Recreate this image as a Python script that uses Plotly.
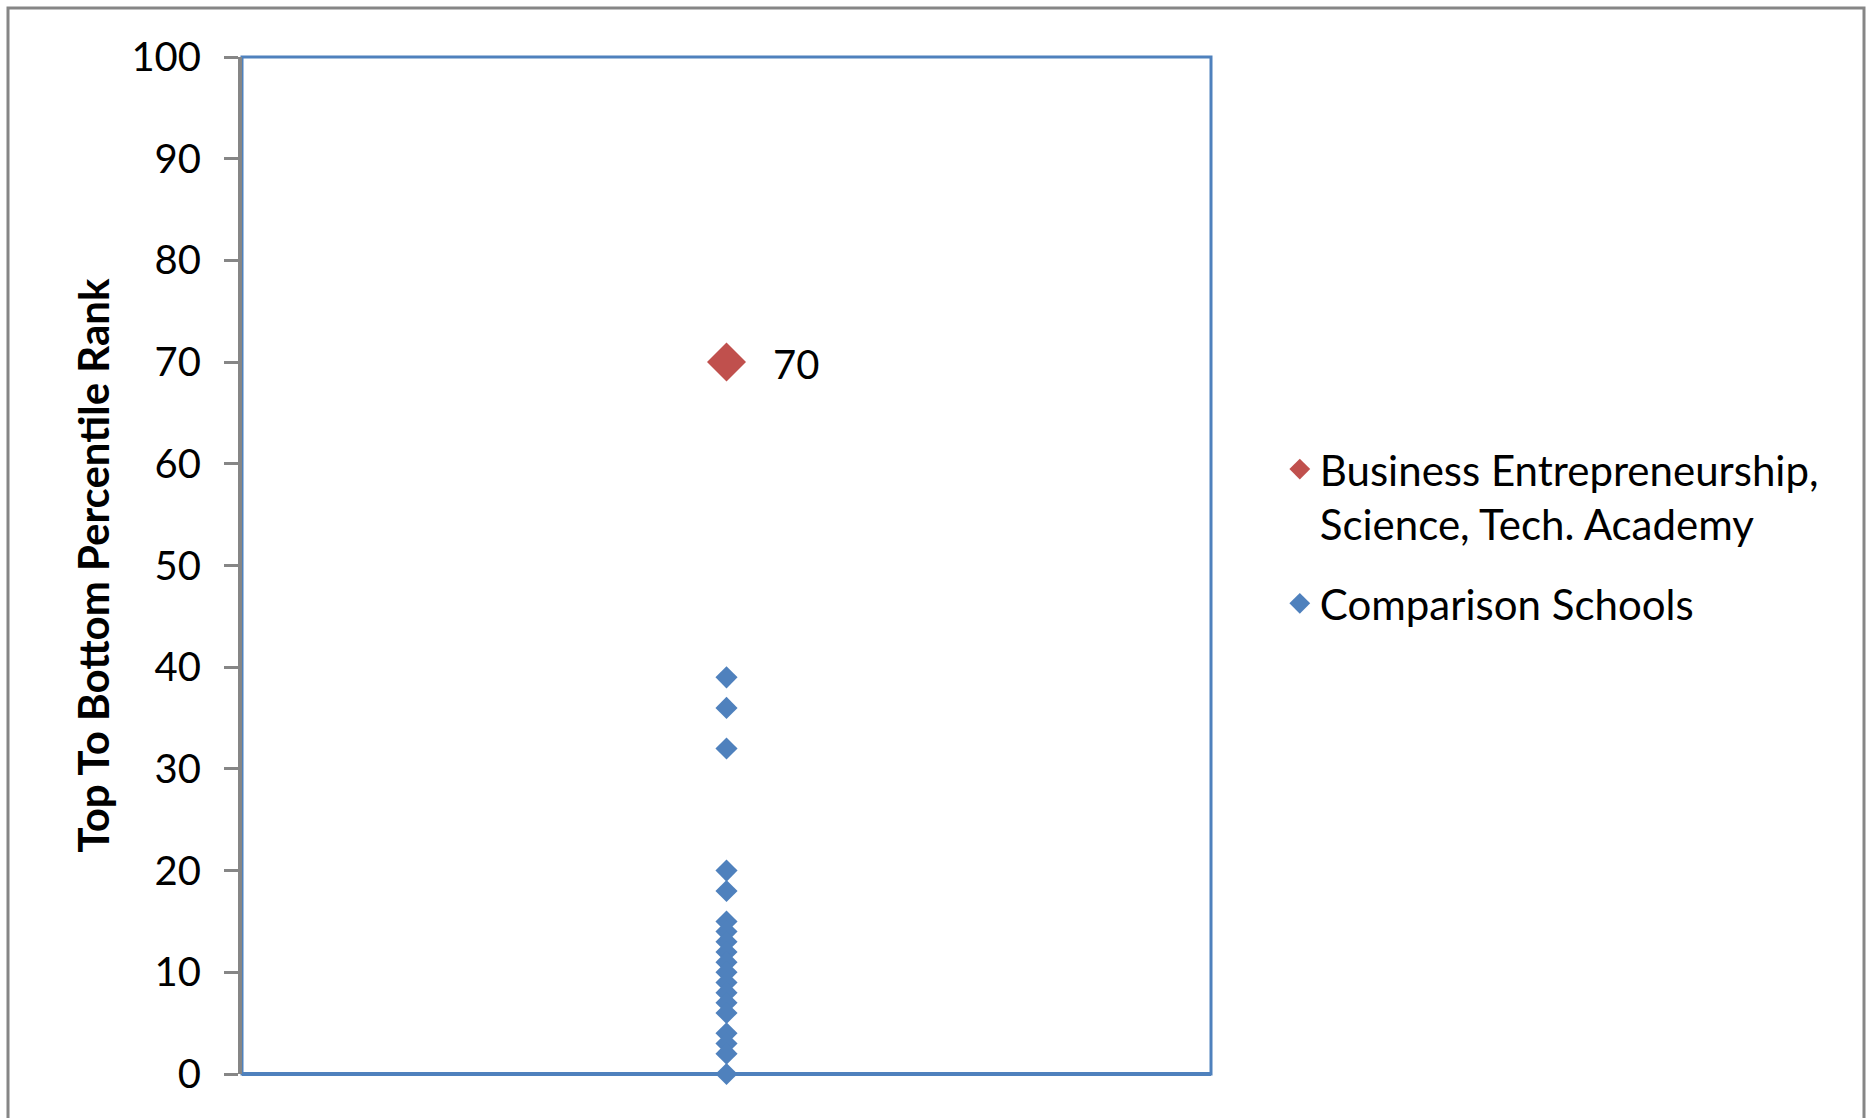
import plotly.graph_objects as go

# ---- data ----
academy_name = "Business Entrepreneurship,<br>Science, Tech. Academy"
academy_x = [1]
academy_rank = [70]
comparison_name = "Comparison Schools"
comparison_ranks = [39, 36, 32, 20, 18, 15, 14, 13, 12, 11, 10, 9, 8, 7, 6, 4, 3, 2, 0]
y_ticks = [0, 10, 20, 30, 40, 50, 60, 70, 80, 90, 100]
y_title = "Top To Bottom Percentile Rank"

RED = "#C0504D"
BLUE = "#4F81BD"
GRAY = "#868686"
FONT = "Lato"

fig = go.Figure()

fig.add_trace(go.Scatter(
    x=academy_x, y=academy_rank, name=academy_name,
    mode="markers",
    marker=dict(symbol="diamond", size=30, color=RED),
    legendgroup="a", cliponaxis=False,
))
fig.add_trace(go.Scatter(
    x=[1] * len(comparison_ranks), y=comparison_ranks, name=comparison_name,
    mode="markers",
    marker=dict(symbol="diamond", size=17, color=BLUE),
    legendgroup="b", cliponaxis=False,
))

# data label for the academy point
for xv, yv in zip(academy_x, academy_rank):
    fig.add_annotation(x=xv, y=yv, text=str(yv), showarrow=False,
                       xanchor="left", yanchor="middle", xshift=44, yshift=-2,
                       font=dict(family=FONT, size=40, color="black"))

fig.update_layout(
    width=1869, height=1118,
    margin=dict(l=242, r=658, t=57, b=44),
    paper_bgcolor="white", plot_bgcolor="white",
    font=dict(family=FONT, color="black"),
    showlegend=True,
    legend=dict(
        x=1.071, y=0.628, xanchor="left", yanchor="top",
        font=dict(family=FONT, size=42, color="black"),
        valign="top", tracegroupgap=22, traceorder="grouped",
        bgcolor="rgba(0,0,0,0)",
    ),
    xaxis=dict(range=[0, 2], showticklabels=False, showgrid=False,
               zeroline=False, ticks="", showline=False, fixedrange=True),
    yaxis=dict(range=[0, 100], tickvals=y_ticks, showgrid=False, zeroline=False,
               showline=True, linecolor=GRAY, linewidth=4,
               ticks="outside", ticklen=14, tickwidth=3, tickcolor=GRAY,
               tickfont=dict(family=FONT, size=40, color="black"),
               ticklabelstandoff=15,
               title=dict(text=y_title, standoff=10,
                          font=dict(family=FONT, size=42, color="black", weight="bold"))),
    shapes=[
        # plot area border
        dict(type="rect", xref="paper", yref="paper", x0=0, y0=0, x1=1, y1=1,
             line=dict(color=BLUE, width=3), layer="below"),
        # bottom axis line (thicker)
        dict(type="line", xref="paper", yref="paper", x0=0, y0=0, x1=1, y1=0,
             line=dict(color=BLUE, width=4), layer="below"),
        # outer chart border
        dict(type="rect", xref="paper", yref="paper",
             x0=(8 - 242) / 969, x1=(1864 - 242) / 969,
             y0=(1074 - 1130) / 1017, y1=(1074 - 8) / 1017,
             line=dict(color=GRAY, width=3), layer="below"),
    ],
)

fig.write_html("out.html")
